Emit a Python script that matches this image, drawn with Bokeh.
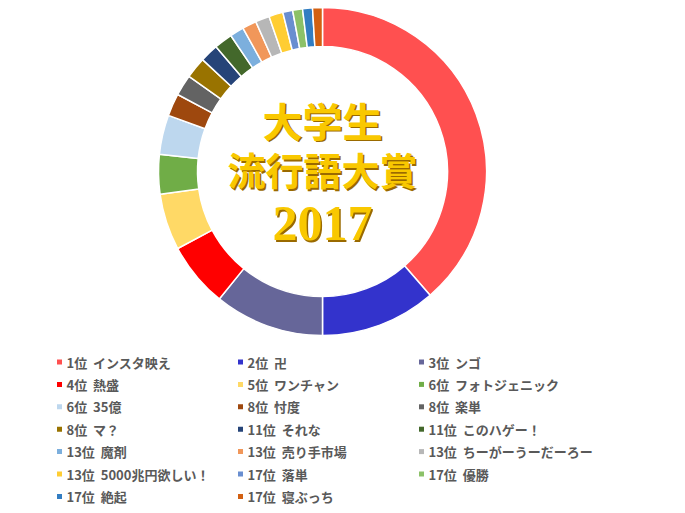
import numpy as np
from bokeh.plotting import figure
from bokeh.models import Range1d, ColumnDataSource
from bokeh.core.properties import value
from bokeh.embed import file_html
from bokeh.resources import INLINE

# ---- data ----
ranks = ["1位", "2位", "3位", "4位", "5位", "6位", "6位", "8位", "8位", "8位",
         "11位", "11位", "13位", "13位", "13位", "13位", "17位", "17位", "17位", "17位"]
words = ["インスタ映え", "卍", "ンゴ", "熱盛", "ワンチャン", "フォトジェニック", "35億",
         "忖度", "楽単", "マ？", "それな", "このハゲー！", "魔剤", "売り手市場",
         "ちーがーうーだーろー", "5000兆円欲しい！", "落単", "優勝", "絶起", "寝ぶっち"]
votes = [139, 41, 39, 23, 20, 14, 14, 8, 7.5, 7.5,
         6.5, 6.5, 5, 5, 5, 5, 3.5, 3.5, 3.5, 3.5]
colors = ["#FF5050", "#3333CC", "#666699", "#FF0000", "#FFD966", "#70AD47", "#BDD7EE",
          "#9E480E", "#636363", "#997300", "#264478", "#43682B", "#7CAFDD", "#F1975A",
          "#B7B7B7", "#FFCD33", "#698ED0", "#8CC168", "#327DC2", "#D26012"]
title_lines = ["大学生", "流行語大賞", "2017"]

W, H = 677, 505
p = figure(width=W, height=H, output_backend="svg", toolbar_location=None,
           x_range=Range1d(0, W), y_range=Range1d(513 - H, 513),
           x_axis_type=None, y_axis_type=None, min_border=0,
           background_fill_color="white", border_fill_color="white")
p.outline_line_color = None
p.grid.visible = False

# ---- donut ----
v = np.array(votes, dtype=float)
frac = v / v.sum() * 2 * np.pi
cum_end = np.cumsum(frac)
cum_start = cum_end - frac
cx, cy = 322, 513 - 171
src = ColumnDataSource(dict(start=np.pi / 2 - cum_start, end=np.pi / 2 - cum_end,
                            color=colors))
p.annular_wedge(x=cx, y=cy, inner_radius=125, outer_radius=164,
                start_angle="start", end_angle="end", direction="clock",
                fill_color="color", line_color="white", line_width=1.5, source=src)

# ---- center title ----
title_y = [513 - 119, 513 - 168, 513 - 223]
title_fonts = ["Noto Sans CJK JP", "Noto Sans CJK JP", "Liberation Serif"]
title_sizes = ["40px", "38px", "50px"]
for t, ty, tf, ts in zip(title_lines, title_y, title_fonts, title_sizes):
    p.text(x=[cx + 1.5], y=[ty - 1.5], text=[t], text_font=value(tf),
           text_font_size=ts, text_font_style="bold", text_color="#9A6A00",
           text_align="center", text_baseline="middle")
    p.text(x=[cx], y=[ty], text=[t], text_font=value(tf),
           text_font_size=ts, text_font_style="bold", text_color="#F9C800",
           text_align="center", text_baseline="middle")

# ---- legend (3 columns, row-major) ----
n = len(words)
col = np.arange(n) % 3
row = np.arange(n) // 3
sq_x = np.array([59, 240, 421])[col]
ly = 513 - (361.5 + 22.4 * row)
labels = [f"{r}\u00a0\u00a0{w}" for r, w in zip(ranks, words)]
lsrc = ColumnDataSource(dict(x=sq_x, tx=sq_x + 7, y=ly, color=colors, label=labels))
p.rect(x="x", y="y", width=5, height=5, fill_color="color", line_color=None, source=lsrc)
p.text(x="tx", y="y", text="label", text_font=value("Noto Sans CJK JP"),
       text_font_size="13px", text_font_style="bold", text_color="#595959",
       text_baseline="middle", text_align="left", source=lsrc)

open("out.html", "w").write(file_html(p, INLINE))
